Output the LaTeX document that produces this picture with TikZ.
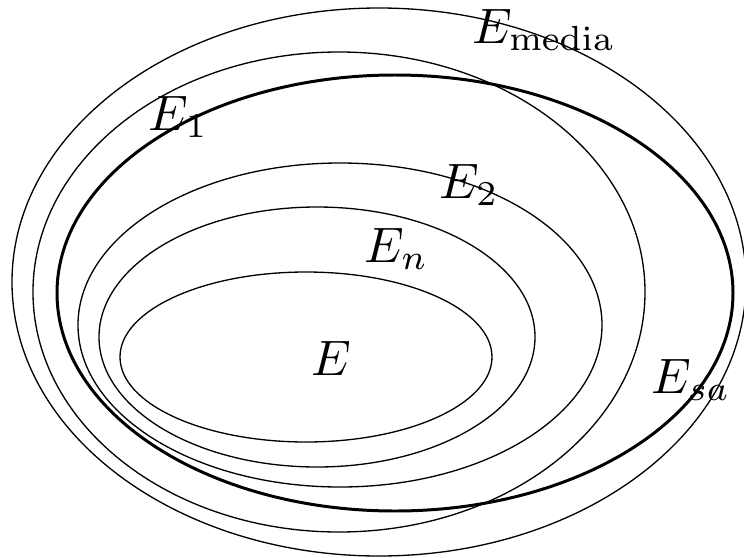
\documentclass[tikz,border=0pt]{standalone}
\begin{document}
\begin{tikzpicture}[x=0.02cm, y=-0.02cm,
  set/.style={draw, line width=0.75pt},
  bigset/.style={draw, line width=1.7pt},
  lab/.style={anchor=base west, inner sep=0pt, scale=2.835}]
\useasboundingbox (0,0) rectangle (744,558);
% ---- the nested sets, outermost first
\draw[set] (379,282) ellipse [x radius=367, y radius=274];
\draw[set] (339,292) ellipse [x radius=306, y radius=240];
\draw[bigset] (395,293) ellipse [x radius=338, y radius=218];
\draw[set] (340,325) ellipse [x radius=262, y radius=162];
\draw[set] (317,337) ellipse [x radius=218, y radius=130];
\draw[set] (306,357) ellipse [x radius=186, y radius=85];
% ---- labels
\node[lab] (media) at (471.5,43) {$E_{\mathrm{media}}$};
\node[lab] (one) at (148,130) {$E_1$};
\node[lab] (two) at (438.5,198) {$E_2$};
\node[lab] (en) at (363.5,262) {$E_n$};
\node[lab] (e) at (310.5,375) {$E$};
\node[lab] (sa) at (650,393) {$E_{sa}$};
\end{tikzpicture}
\end{document}
